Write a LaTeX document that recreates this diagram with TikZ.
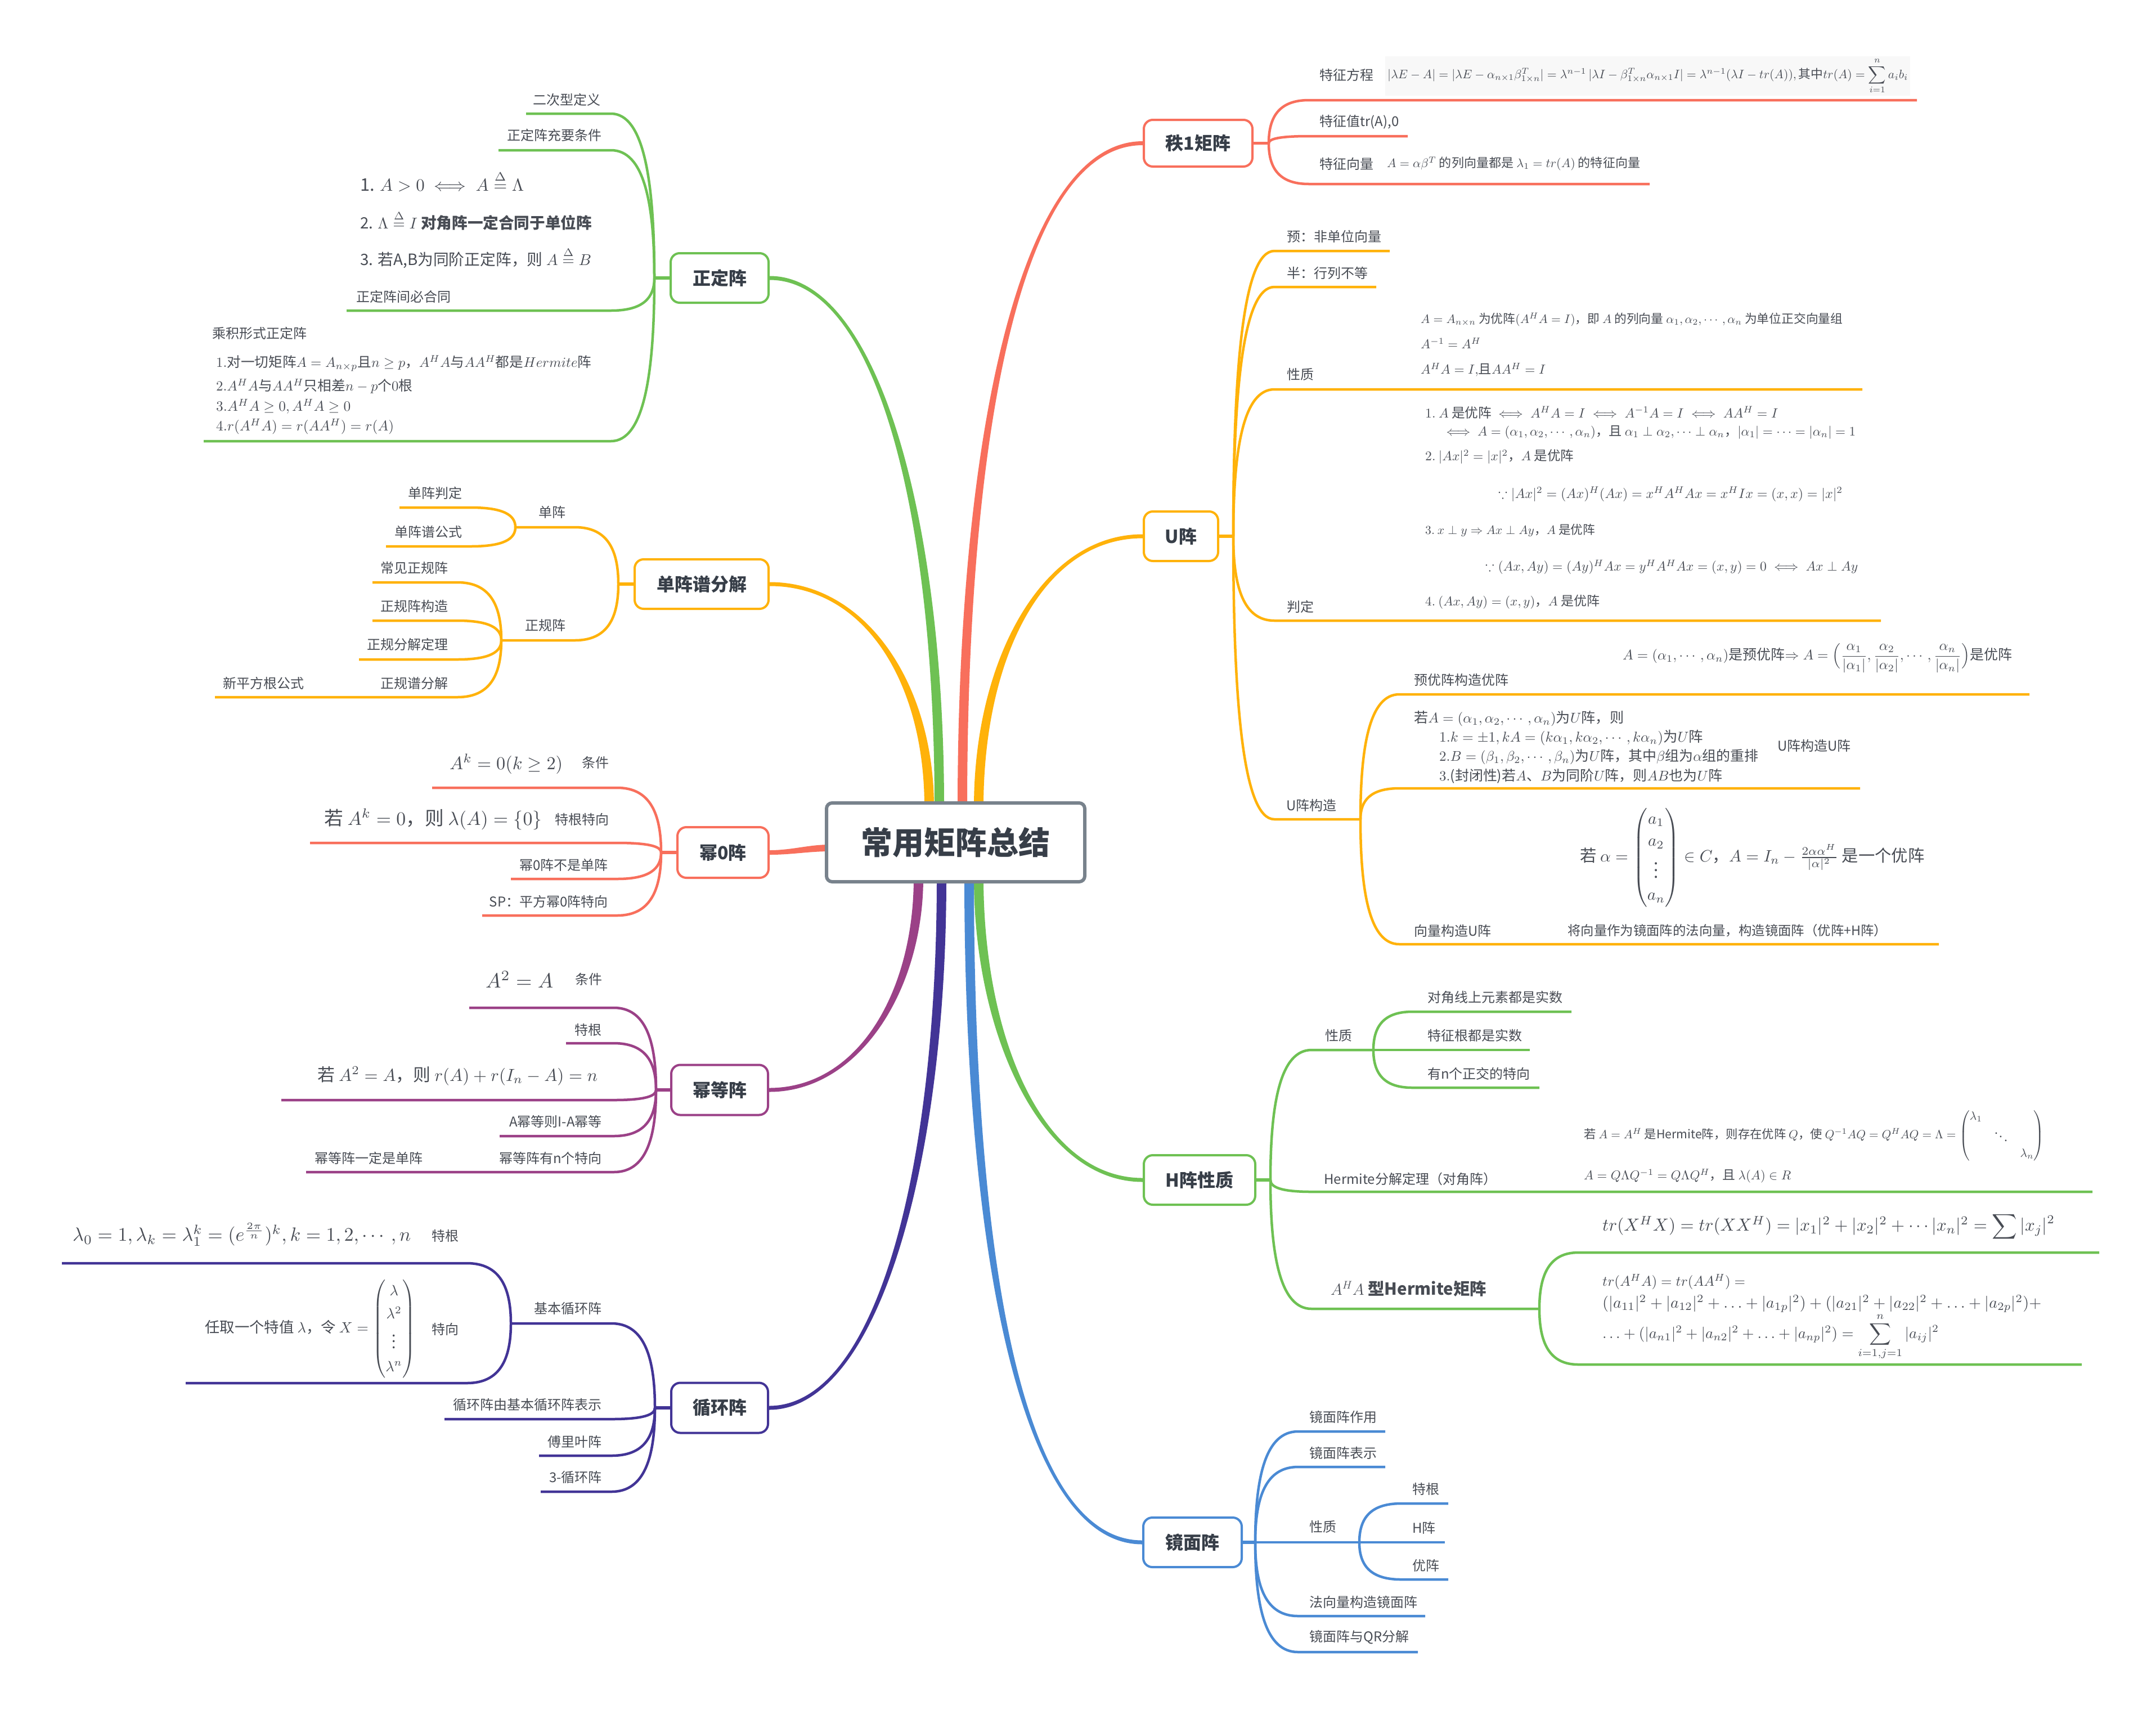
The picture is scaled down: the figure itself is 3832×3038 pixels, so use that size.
\documentclass[tikz,border=0pt]{standalone}
\usepackage{amsmath,amssymb}
\usepackage{graphicx}
\usepackage{fontspec}
\setmainfont{Noto Sans CJK SC}
\usetikzlibrary{calc}
\pgfdeclarelayer{bg}
\pgfsetlayers{bg,main}
\definecolor{cR}{RGB}{248,111,92}
\definecolor{cO}{RGB}{255,178,10}
\definecolor{cG}{RGB}{110,193,83}
\definecolor{cB}{RGB}{74,138,212}
\definecolor{cP}{RGB}{155,65,135}
\definecolor{cI}{RGB}{66,52,150}
\definecolor{cGray}{RGB}{120,130,140}
\definecolor{txt}{RGB}{72,76,84}
\definecolor{ttl}{RGB}{55,62,72}
\definecolor{fbg}{RGB}{248,248,248}
\newcommand\fsz[1]{\fontsize{#1pt}{#1pt}\selectfont}
\newcommand\fw[2]{\resizebox{#1pt}{!}{#2}}
\newcommand\lnk[3]{\draw (#1) .. controls ($(#1)!0.6!(#1|-#2)$) and ($(#2)!0.75!(#1|-#2)$) .. (#2) -- (#3);}
\newcommand\ulk[5]{\coordinate (#2s) at (#3,#5); \coordinate (#2e) at (#4,#5); \lnk{#1}{#2s}{#2e}}
\newcommand\mainbr[7]{\fill[#1] ($(#2)+(#6)$) .. controls ($(#2)+(#4)+(#6)$) and ($(#3)+(#5)+(#7)$) .. ($(#3)+(#7)$) -- ($(#3)-(#7)$) .. controls ($(#3)+(#5)-(#7)$) and ($(#2)+(#4)-(#6)$) .. ($(#2)-(#6)$) -- cycle;}
\begin{document}
\begin{tikzpicture}[x=1pt,y=-1pt,
  lbl/.style={text=txt,font=\fsz{24},inner sep=0pt},
  fml/.style={text=txt,font=\fsz{10},inner sep=0pt},
  l1/.style={draw=#1,line width=4pt,rounded corners=16pt,fill=white,text=ttl,font=\fsz{32}\bfseries,inner sep=0pt},
  sub/.style={line width=4.5pt},
  stem/.style={line width=5.5pt}]
\useasboundingbox (0,0) rectangle (3832,3038);

% ---------- nodes ----------
\node[draw=cGray,line width=6pt,rounded corners=10pt,fill=white,minimum width=459pt,minimum height=140pt,text=ttl,font=\fsz{56}\bfseries,inner sep=0pt] (C) at (1698.5,1497) {常用矩阵总结};

\node[l1=cR,minimum width=193pt,minimum height=83pt] (r1) at (2129.5,254.5) {秩1矩阵};
\node[l1=cO,minimum width=132pt,minimum height=88pt] (U) at (2099,953) {U阵};
\node[l1=cG,minimum width=198pt,minimum height=88pt] (H) at (2132,2097) {H阵性质};
\node[l1=cB,minimum width=175pt,minimum height=88pt] (J) at (2119.5,2741) {镜面阵};
\node[l1=cG,minimum width=174pt,minimum height=88pt] (Z) at (1279,494) {正定阵};
\node[l1=cO,minimum width=238pt,minimum height=88pt] (D) at (1247,1038) {单阵谱分解};
\node[l1=cR,minimum width=162pt,minimum height=90pt] (M0) at (1285,1515) {幂0阵};
\node[l1=cP,minimum width=172pt,minimum height=89pt] (MD) at (1279,1937) {幂等阵};
\node[l1=cI,minimum width=172pt,minimum height=89pt] (X) at (1279,2502) {循环阵};

\coordinate (r1t) at (2255,254.5);
\coordinate (Ut) at (2192,953);
\coordinate (Ht) at (2258,2097);
\coordinate (Jt) at (2231,2741);
\coordinate (Zt) at (1163,494);
\coordinate (Dt) at (1099,1038);
\coordinate (M0t) at (1175,1515);
\coordinate (MDt) at (1166,1937);
\coordinate (Xt) at (1164,2502);

\coordinate (sR1) at ($(C.north)+(12,10)$);
\coordinate (sU) at ($(C.north)+(41,10)$);
\coordinate (sH) at ($(C.south)+(41,-10)$);
\coordinate (sJ) at ($(C.south)+(24,-10)$);
\coordinate (sZ) at ($(C.north)+(-29,10)$);
\coordinate (sD) at ($(C.north)+(-47,10)$);
\coordinate (sM0) at ($(C.west)+(10,10)$);
\coordinate (sMD) at ($(C.south)+(-66,-10)$);
\coordinate (sX) at ($(C.south)+(-25,-10)$);

% ---------- connectors ----------
\begin{pgfonlayer}{bg}
\fill[white] (0,0) rectangle (3832,3038);
\mainbr{cR}{sR1}{r1.west}{0,-650}{-220,0}{8.5,0}{0,3.5}
\mainbr{cO}{sU}{U.west}{0,-260}{-180,0}{8.5,0}{0,3.5}
\mainbr{cG}{sH}{H.west}{0,280}{-180,0}{8.5,0}{0,-3.5}
\mainbr{cB}{sJ}{J.west}{0,650}{-220,0}{8.5,0}{0,-3.5}
\mainbr{cG}{sZ}{Z.east}{0,-520}{190,0}{8.5,0}{0,-3.5}
\mainbr{cO}{sD}{D.east}{0,-220}{170,0}{8.5,0}{0,-3.5}
\mainbr{cR}{sM0}{M0.east}{-40,0}{40,0}{0,6}{0,4}
\mainbr{cP}{sMD}{MD.east}{0,200}{160,0}{8.5,0}{0,3.5}
\mainbr{cI}{sX}{X.east}{0,520}{190,0}{8.5,0}{0,3.5}

\draw[stem,cR] (r1.east) -- (r1t);
\draw[stem,cO] (U.east) -- (Ut);
\draw[stem,cG] (H.east) -- (Ht);
\draw[stem,cB] (J.east) -- (Jt);
\draw[stem,cG] (Z.west) -- (Zt);
\draw[stem,cO] (D.west) -- (Dt);
\draw[stem,cR] (M0.west) -- (M0t);
\draw[stem,cP] (MD.west) -- (MDt);
\draw[stem,cI] (X.west) -- (Xt);

\begin{scope}[sub,color=cR]
\ulk{r1t}{ra}{2326}{3407}{178}
\ulk{r1t}{rb}{2326}{2502}{242}
\ulk{r1t}{rc}{2326}{2932}{327}
\end{scope}
\begin{scope}[sub,color=cO]
\ulk{Ut}{ua}{2265}{2470}{446}
\ulk{Ut}{ub}{2265}{2446}{510}
\ulk{Ut}{uc}{2265}{3310}{692}
\ulk{Ut}{ud}{2265}{3343}{1103}
\ulk{Ut}{ue}{2265}{2418}{1456}
\ulk{uee}{uf}{2487}{3607}{1234}
\ulk{uee}{ug}{2487}{3306}{1401}
\ulk{uee}{uh}{2487}{3446}{1678}
\end{scope}
\begin{scope}[sub,color=cG]
\ulk{Ht}{ha}{2331}{2441}{1866}
\ulk{hae}{hb}{2510}{2793}{1798}
\coordinate (hce) at (2719,1866); \draw (hae) -- (hce);
\ulk{hae}{hd}{2510}{2736}{1933}
\ulk{Ht}{he}{2331}{3719}{2118}
\ulk{Ht}{hf}{2331}{2736}{2326}
\ulk{hfe}{hg}{2805}{3731}{2226}
\ulk{hfe}{hh}{2805}{3700}{2425}
\end{scope}
\begin{scope}[sub,color=cB]
\ulk{Jt}{ja}{2307}{2462}{2544}
\ulk{Jt}{jb}{2307}{2462}{2607}
\coordinate (jce) at (2416,2741); \draw (Jt) -- (jce);
\ulk{jce}{jd}{2490}{2574}{2672}
\coordinate (jee) at (2568,2741); \draw (jce) -- (jee);
\ulk{jce}{jf}{2490}{2574}{2807}
\ulk{Jt}{jg}{2307}{2533}{2872}
\ulk{Jt}{jh}{2307}{2520}{2936}
\end{scope}
\begin{scope}[sub,color=cG]
\ulk{Zt}{za}{1086}{935}{202}
\ulk{Zt}{zb}{1086}{886}{267}
\ulk{Zt}{zc}{1086}{616}{552}
\ulk{Zt}{zd}{1086}{362}{784}
\end{scope}
\begin{scope}[sub,color=cO]
\ulk{Dt}{da}{1022}{916}{937}
\ulk{dae}{db}{837}{710}{902}
\ulk{dae}{dc}{837}{686}{971}
\ulk{Dt}{dd}{1022}{891}{1138}
\ulk{dde}{de}{813}{662}{1035}
\ulk{dde}{df}{813}{662}{1103}
\ulk{dde}{dg}{813}{638}{1172}
\ulk{dde}{dh}{813}{382}{1239}
\end{scope}
\begin{scope}[sub,color=cR]
\ulk{M0t}{ma}{1097}{768}{1400}
\ulk{M0t}{mb}{1097}{551}{1498}
\ulk{M0t}{mc}{1097}{908}{1562}
\ulk{M0t}{md}{1097}{857}{1627}
\end{scope}
\begin{scope}[sub,color=cP]
\ulk{MDt}{pa}{1091}{834}{1791}
\ulk{MDt}{pb}{1091}{1006}{1854}
\ulk{MDt}{pc}{1091}{500}{1955}
\ulk{MDt}{pd}{1091}{888}{2019}
\ulk{MDt}{pe}{1091}{544}{2083}
\end{scope}
\begin{scope}[sub,color=cI]
\ulk{Xt}{xa}{1087}{908}{2352}
\ulk{xae}{xb}{830}{110}{2245}
\ulk{xae}{xc}{830}{330}{2458}
\ulk{Xt}{xd}{1087}{790}{2522}
\ulk{Xt}{xe}{1087}{958}{2587}
\ulk{Xt}{xf}{1087}{961}{2651}
\end{scope}
\end{pgfonlayer}

% ---------- 秩1矩阵 ----------
\node[lbl,anchor=west] (t1) at (2345,133) {特征方程};
\node[fml,anchor=west,fill=fbg,inner xsep=4pt,inner ysep=3pt] (f1) at (2462,135) {\fw{925}{$|\lambda E-A|=|\lambda E-\alpha_{n\times1}\beta^{T}_{1\times n}|=\lambda^{n-1}\,|\lambda I-\beta^{T}_{1\times n}\alpha_{n\times1}I|=\lambda^{n-1}(\lambda I-tr(A)),\text{其中}tr(A)=\displaystyle\sum_{i=1}^{n}a_ib_i$}};
\node[lbl,anchor=west] (t2) at (2345,217) {特征值tr(A),0};
\node[lbl,anchor=west] (t3) at (2345,291) {特征向量};
\node[fml,anchor=west] (f2) at (2465,291) {\fw{450}{$A=\alpha\beta^{T}$ 的列向量都是 $\lambda_1=tr(A)$ 的特征向量}};

% ---------- U阵 ----------
\node[lbl,anchor=west] (u1) at (2287,420) {预：非单位向量};
\node[lbl,anchor=west] (u2) at (2287,485) {半：行列不等};
\node[lbl,anchor=west] (u3) at (2287,665) {性质};
\node[fml,anchor=west] (u3a) at (2525,568) {\fw{750}{$A=A_{n\times n}$ 为优阵$(A^HA=I)$，即 $A$ 的列向量 $\alpha_1,\alpha_2,\cdots,\alpha_n$ 为单位正交向量组}};
\node[fml,anchor=west] (u3b) at (2525,610) {\fw{107}{$A^{-1}=A^H$}};
\node[fml,anchor=west] (u3c) at (2525,657) {\fw{222}{$A^HA=I,$且$AA^H=I$}};
\node[lbl,anchor=west] (u4) at (2287,1078) {判定};
\node[fml,anchor=west] (u4a) at (2533,733) {\fw{627}{$1.\ A$ 是优阵 $\iff A^HA=I\iff A^{-1}A=I\iff AA^H=I$}};
\node[fml,anchor=west] (u4b) at (2564,768) {\fw{734}{$\iff A=(\alpha_1,\alpha_2,\cdots,\alpha_n)$，且 $\alpha_1\perp\alpha_2,\cdots\perp\alpha_n$，$|\alpha_1|=\cdots=|\alpha_n|=1$}};
\node[fml,anchor=west] (u4c) at (2533,812) {\fw{264}{$2.\ |Ax|^2=|x|^2$，$A$ 是优阵}};
\node[fml,anchor=west] (u4d) at (2663,878) {\fw{612}{$\because|Ax|^2=(Ax)^H(Ax)=x^HA^HAx=x^HIx=(x,x)=|x|^2$}};
\node[fml,anchor=west] (u4e) at (2533,942) {\fw{302}{$3.\ x\perp y\Rightarrow Ax\perp Ay$，$A$ 是优阵}};
\node[fml,anchor=west] (u4f) at (2640,1008) {\fw{662}{$\because(Ax,Ay)=(Ay)^HAx=y^HA^HAx=(x,y)=0\iff Ax\perp Ay$}};
\node[fml,anchor=west] (u4g) at (2533,1070) {\fw{310}{$4.\ (Ax,Ay)=(x,y)$，$A$ 是优阵}};
\node[lbl,anchor=west] (u5) at (2286,1431) {U阵构造};
\node[lbl,anchor=west] (u6) at (2513,1208) {预优阵构造优阵};
\node[fml,anchor=west] (u6a) at (2884,1170) {\fw{692}{$A=(\alpha_1,\cdots,\alpha_n)$是预优阵$\Rightarrow A=\Big(\dfrac{\alpha_1}{|\alpha_1|},\dfrac{\alpha_2}{|\alpha_2|},\cdots,\dfrac{\alpha_n}{|\alpha_n|}\Big)$是优阵}};
\node[lbl,anchor=west] (u7) at (3159,1325) {U阵构造U阵};
\node[fml,anchor=west] (u7a) at (2513,1277) {\fw{373}{若$A=(\alpha_1,\alpha_2,\cdots,\alpha_n)$为$U$阵，则}};
\node[fml,anchor=west] (u7b) at (2558,1311) {\fw{469}{$1.k=\pm1,kA=(k\alpha_1,k\alpha_2,\cdots,k\alpha_n)$为$U$阵}};
\node[fml,anchor=west] (u7c) at (2558,1345) {\fw{567}{$2.B=(\beta_1,\beta_2,\cdots,\beta_n)$为$U$阵，其中$\beta$组为$\alpha$组的重排}};
\node[fml,anchor=west] (u7d) at (2558,1379) {\fw{503}{$3.$(封闭性)若$A$、$B$为同阶$U$阵，则$AB$也为$U$阵}};
\node[lbl,anchor=west] (u8) at (2513,1654) {向量构造U阵};
\node[lbl,anchor=west] (u8a) at (2786,1654) {\fw{568}{将向量作为镜面阵的法向量，构造镜面阵（优阵+H阵）}};
\node[fml,anchor=west] (u8b) at (2808,1524) {\fw{612}{{\renewcommand\arraystretch{1.35}若 $\alpha=\begin{pmatrix}a_1\\a_2\\\vdots\\a_n\end{pmatrix}\in C$，$A=I_n-\frac{2\alpha\alpha^H}{|\alpha|^2}$ 是一个优阵}}};

% ---------- H阵性质 ----------
\node[lbl,anchor=west] (h1) at (2355,1840) {性质};
\node[lbl,anchor=west] (h2) at (2537,1772) {对角线上元素都是实数};
\node[lbl,anchor=west] (h3) at (2537,1840) {特征根都是实数};
\node[lbl,anchor=west] (h4) at (2537,1908) {有n个正交的特向};
\node[lbl,anchor=west] (h5) at (2353,2095) {Hermite分解定理（对角阵）};
\node[fml,anchor=west] (h5a) at (2815,2018) {\fw{818}{{\renewcommand\arraystretch{1.2}若 $A=A^H$ 是Hermite阵，则存在优阵 $Q$，使 $Q^{-1}AQ=Q^HAQ=\Lambda=\begin{pmatrix}\lambda_1&&\\&\ddots&\\&&\lambda_n\end{pmatrix}$}}};
\node[fml,anchor=west] (h5b) at (2815,2090) {\fw{368}{$A=Q\Lambda Q^{-1}=Q\Lambda Q^H$，且 $\lambda(A)\in R$}};
\node[lbl,anchor=west,font=\fsz{26}\bfseries] (h6) at (2365,2290) {\fw{277}{$A^HA$ 型Hermite矩阵}};
\node[fml,anchor=west] (h6a) at (2848,2180) {\fw{804}{$tr(X^HX)=tr(XX^H)=|x_1|^2+|x_2|^2+\cdots|x_n|^2=\displaystyle\sum|x_j|^2$}};
\node[fml,anchor=west] (h6b) at (2848,2278) {\fw{254}{$tr(A^HA)=tr(AA^H)=$}};
\node[fml,anchor=west] (h6c) at (2848,2317) {\fw{780}{$(|a_{11}|^2+|a_{12}|^2+\ldots+|a_{1p}|^2)+(|a_{21}|^2+|a_{22}|^2+\ldots+|a_{2p}|^2)+$}};
\node[fml,anchor=west] (h6d) at (2848,2375) {\fw{598}{$\ldots+(|a_{n1}|^2+|a_{n2}|^2+\ldots+|a_{np}|^2)=\displaystyle\sum_{i=1,j=1}^{n}|a_{ij}|^2$}};

% ---------- 镜面阵 ----------
\node[lbl,anchor=west] (j1) at (2327,2518) {镜面阵作用};
\node[lbl,anchor=west] (j2) at (2327,2582) {镜面阵表示};
\node[lbl,anchor=west] (j3) at (2327,2713) {性质};
\node[lbl,anchor=west] (j4) at (2510,2646) {特根};
\node[lbl,anchor=west] (j5) at (2510,2715) {H阵};
\node[lbl,anchor=west] (j6) at (2510,2782) {优阵};
\node[lbl,anchor=west] (j7) at (2327,2847) {法向量构造镜面阵};
\node[lbl,anchor=west] (j8) at (2327,2910) {镜面阵与QR分解};

% ---------- 正定阵 ----------
\node[lbl,anchor=east] (z1) at (1068,177) {二次型定义};
\node[lbl,anchor=east] (z2) at (1070,240) {正定阵充要条件};
\node[fml,anchor=west] (z3a) at (640,322) {\fw{291}{1. $A>0\iff A\overset{\Delta}{=}\Lambda$}};
\node[fml,anchor=west] (z3b) at (640,392) {\fw{412}{2. $\Lambda\overset{\Delta}{=}I$ \textbf{对角阵一定合同于单位阵}}};
\node[fml,anchor=west] (z3c) at (640,458) {\fw{411}{3. 若A,B为同阶正定阵，则 $A\overset{\Delta}{=}B$}};
\node[lbl,anchor=west] (z4) at (633,527) {正定阵间必合同};
\node[lbl,anchor=west] (z5) at (377,592) {乘积形式正定阵};
\node[fml,anchor=west] (z5a) at (384,646) {\fw{667}{$1.$对一切矩阵$A=A_{n\times p}$且$n\geq p$，$A^HA$与$AA^H$都是$Hermite$阵}};
\node[fml,anchor=west] (z5b) at (384,686) {\fw{349}{$2.A^HA$与$AA^H$只相差$n-p$个$0$根}};
\node[fml,anchor=west] (z5c) at (384,722) {\fw{239}{$3.A^HA\geq0,A^HA\geq0$}};
\node[fml,anchor=west] (z5d) at (384,758) {\fw{316}{$4.r(A^HA)=r(AA^H)=r(A)$}};

% ---------- 单阵谱分解 ----------
\node[lbl,anchor=east] (d1) at (1006,910) {单阵};
\node[lbl,anchor=east] (d2) at (822,876) {单阵判定};
\node[lbl,anchor=east] (d3) at (822,945) {单阵谱公式};
\node[lbl,anchor=east] (d4) at (1006,1111) {正规阵};
\node[lbl,anchor=east] (d5) at (797,1009) {常见正规阵};
\node[lbl,anchor=east] (d6) at (797,1077) {正规阵构造};
\node[lbl,anchor=east] (d7) at (797,1145) {正规分解定理};
\node[lbl,anchor=east] (d8) at (797,1214) {正规谱分解};
\node[lbl,anchor=east] (d9) at (541,1214) {新平方根公式};

% ---------- 幂0阵 ----------
\node[fml,anchor=west] (m1) at (799,1358) {\fw{201}{$A^k=0(k\geq2)$}};
\node[lbl,anchor=west] (m1b) at (1034,1355) {条件};
\node[fml,anchor=west] (m2) at (576,1456) {\fw{387}{若 $A^k=0$，则 $\lambda(A)=\{0\}$}};
\node[lbl,anchor=west] (m2b) at (986,1456) {特根特向};
\node[lbl,anchor=east] (m3) at (1081,1537) {幂0阵不是单阵};
\node[lbl,anchor=east] (m4) at (1081,1602) {SP：平方幂0阵特向};

% ---------- 幂等阵 ----------
\node[fml,anchor=west] (p1) at (863,1741) {\fw{120}{$A^2=A$}};
\node[lbl,anchor=west] (p1b) at (1022,1740) {条件};
\node[lbl,anchor=east] (p2) at (1070,1830) {特根};
\node[fml,anchor=west] (p3) at (564,1912) {\fw{498}{若 $A^2=A$，则 $r(A)+r(I_n-A)=n$}};
\node[lbl,anchor=east] (p4) at (1070,1993) {A幂等则I-A幂等};
\node[lbl,anchor=east] (p5) at (1070,2058) {幂等阵有n个特向};
\node[lbl,anchor=west] (p6) at (559,2058) {幂等阵一定是单阵};

% ---------- 循环阵 ----------
\node[lbl,anchor=east] (x1) at (1070,2325) {基本循环阵};
\node[fml,anchor=west] (x2) at (129,2194) {\fw{601}{$\lambda_0=1,\lambda_k=\lambda_1^k=(e^{\frac{2\pi}{n}})^k,k=1,2,\cdots,n$}};
\node[lbl,anchor=west] (x2b) at (767,2196) {特根};
\node[fml,anchor=west] (x3) at (364,2362) {\fw{374}{{\renewcommand\arraystretch{1.55}任取一个特值 $\lambda$，令 $X=\begin{pmatrix}\lambda\\\lambda^2\\\vdots\\\lambda^n\end{pmatrix}$}}};
\node[lbl,anchor=west] (x3b) at (767,2362) {特向};
\node[lbl,anchor=east] (x4) at (1070,2496) {循环阵由基本循环阵表示};
\node[lbl,anchor=east] (x5) at (1070,2562) {傅里叶阵};
\node[lbl,anchor=east] (x6) at (1070,2625) {3-循环阵};
\end{tikzpicture}
\end{document}
